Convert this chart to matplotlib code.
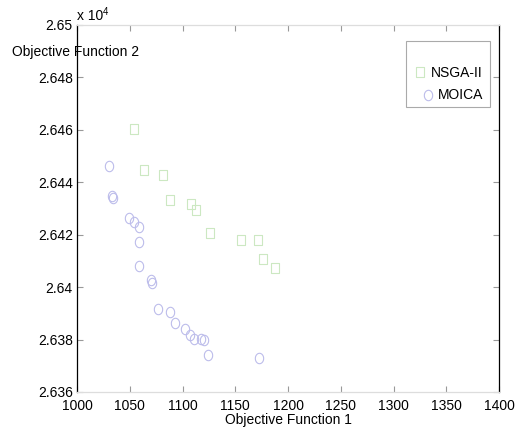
import numpy as np
import matplotlib.pyplot as plt
from matplotlib.path import Path
from matplotlib.lines import Line2D
from matplotlib.patches import Rectangle

plt.rcParams['font.family'] = ['Liberation Sans', 'DejaVu Sans']

# NSGA-II front (objective 1, objective 2)
nsga_f1 = [1054.0, 1063.5, 1081.5, 1088.2, 1108.1, 1112.8, 1126.1, 1155.5, 1171.6, 1176.3, 1187.7]
nsga_f2 = [26460.3, 26444.7, 26442.8, 26433.2, 26431.7, 26429.4, 26420.7, 26418.0, 26418.0, 26410.7, 26407.3]

# MOICA front
moica_f1 = [1030.0, 1033.5, 1034.4, 1049.6, 1054.3, 1058.8, 1058.8, 1058.8, 1070.1, 1071.4,
            1077.1, 1088.2, 1092.6, 1102.4, 1107.1, 1110.6, 1117.3, 1120.7, 1124.5, 1172.8]
moica_f2 = [26446.2, 26434.8, 26433.9, 26426.3, 26425.0, 26422.8, 26417.1, 26408.1, 26402.7, 26401.5,
            26391.5, 26390.4, 26386.2, 26383.9, 26381.7, 26380.1, 26380.1, 26379.7, 26374.1, 26373.0]

green = (0.80, 0.91, 0.76)
blue = (0.74, 0.74, 0.92)
rect = Path([(-0.7, -1), (0.7, -1), (0.7, 1), (-0.7, 1), (-0.7, -1)],
            [Path.MOVETO, Path.LINETO, Path.LINETO, Path.LINETO, Path.CLOSEPOLY])
t = np.linspace(0, 2 * np.pi, 40)
ell = Path(np.column_stack([0.8 * np.cos(t), np.sin(t)]))

fig = plt.figure(figsize=(5.22, 4.33), dpi=100)
ax = fig.add_axes([0.1475, 0.0947, 0.8085, 0.8476])

ax.plot(nsga_f1, np.array(nsga_f2) / 1e4, ls='none', marker=rect, ms=7.5,
        mfc='none', mec=green, mew=0.8)
ax.plot(moica_f1, np.array(moica_f2) / 1e4, ls='none', marker=ell, ms=7.5,
        mfc='none', mec=blue, mew=0.8)

ax.set_xlim(1000, 1400)
ax.set_ylim(2.636, 2.65)
ax.set_xticks(np.arange(1000, 1401, 50))
yt = [2.636, 2.638, 2.64, 2.642, 2.644, 2.646, 2.648, 2.65]
ax.set_yticks(yt)
ax.set_yticklabels(['2.636', '2.638', '2.64', '2.642', '2.644', '2.646', '2.648', '2.65'])
ax.tick_params(direction='in', length=4, width=0.8, color='#999999',
               top=True, right=True, labelsize=10, pad=3)
ax.tick_params(axis='x', pad=5)

ax.spines['left'].set_color('black')
ax.spines['right'].set_color('black')
ax.spines['top'].set_color('#dddddd')
ax.spines['bottom'].set_color('#dddddd')
for s in ax.spines.values():
    s.set_linewidth(0.9)

ax.set_xlabel('Objective Function 1', fontsize=10, labelpad=0)
fig.text(12 / 522, 1 - 52 / 433, 'Objective Function 2', fontsize=10,
         ha='left', va='center')
fig.text(77 / 522, 1 - 16 / 433, 'x 10', fontsize=10, ha='left', va='center')
fig.text(103 / 522, 1 - 12 / 433, '4', fontsize=7, ha='left', va='center')

# legend box
fig.add_artist(Rectangle((406 / 522, 1 - 107 / 433), 84 / 522, 66 / 433,
                         transform=fig.transFigure, fill=True, fc='white',
                         ec='#aaaaaa', lw=0.8))
fig.add_artist(Line2D([420 / 522], [1 - 72 / 433], transform=fig.transFigure,
                      ls='none', marker=rect, ms=7.5, mfc='none', mec=green, mew=0.8))
fig.add_artist(Line2D([428 / 522], [1 - 95 / 433], transform=fig.transFigure,
                      ls='none', marker=ell, ms=7.5, mfc='none', mec=blue, mew=0.8))
fig.text(431 / 522, 1 - 73 / 433, 'NSGA-II', fontsize=10, ha='left', va='center')
fig.text(438 / 522, 1 - 95 / 433, 'MOICA', fontsize=10, ha='left', va='center')

fig.savefig('out.png', dpi=100)
